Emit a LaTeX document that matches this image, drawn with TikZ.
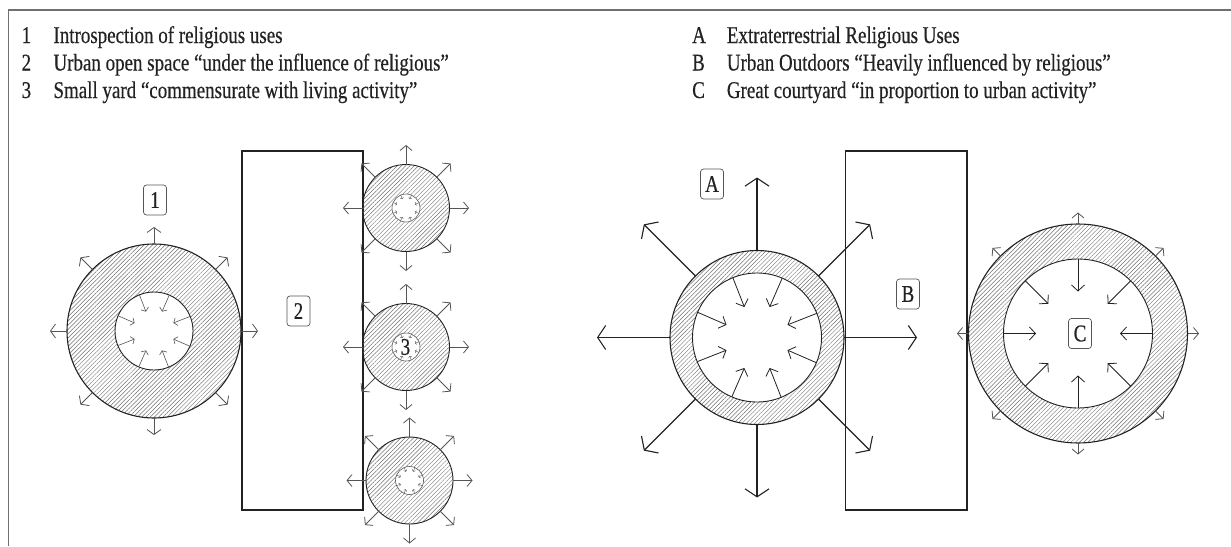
\documentclass[tikz,border=0pt]{standalone}
\usepackage{fontspec}
\setmainfont{Liberation Serif}[FakeStretch=0.79,FakeBold=0.4]
\usetikzlibrary{arrows.meta,patterns.meta,calc}
\definecolor{ink}{HTML}{222222}
\definecolor{lineg}{HTML}{555555}
\definecolor{hatch}{HTML}{707070}
\definecolor{frameg}{HTML}{707070}
\begin{document}
\begin{tikzpicture}[x=1pt,y=1pt,
  lbl/.style={draw=lineg, line width=0.7pt, rounded corners=3pt, fill=white, minimum width=23pt, minimum height=30pt, inner sep=1pt, font=\fontsize{24}{26}\selectfont, text=ink},
  plain/.style={inner sep=0pt, font=\fontsize{24}{26}\selectfont, text=ink},
  ring/.style={circle, draw=ink, line width=1.1pt, pattern={Lines[angle=45,distance=3pt,line width=0.45pt]}, pattern color=hatch, inner sep=0pt, outer sep=0pt, minimum size=#1},
  hole/.style={circle, draw=ink, line width=0.9pt, fill=white, inner sep=0pt, outer sep=0pt, minimum size=#1},
  smallhole/.style={circle, draw=lineg, line width=0.6pt, fill=white, inner sep=0pt, outer sep=0pt, minimum size=#1},
  block/.style={draw=ink, line width=1.3pt, inner sep=0pt, outer sep=0pt},
  legend/.style={anchor=base west, inner sep=0pt, font=\fontsize{24}{26}\selectfont, text=ink},
  sarrow/.style={draw=lineg, line width=0.8pt, -{Straight Barb[length=5pt,width=14pt]}},
  tarrow/.style={draw=lineg, line width=0.6pt, -{Straight Barb[length=3pt,width=8pt]}},
  uarrow/.style={draw=lineg, line width=0.4pt, -{Straight Barb[length=1.5pt,width=3.5pt]}},
  barrow/.style={draw=ink, line width=1.1pt, -{Straight Barb[length=8pt,width=24pt]}},
  marrow/.style={draw=ink, line width=0.8pt, -{Straight Barb[length=6pt,width=13pt]}},
]
\useasboundingbox (0,0) rectangle (1231,-546);
% frame
\coordinate (tr) at (1231,-10);
\coordinate (tl) at (8.5,-10);
\coordinate (bl) at (8.5,-546);
\draw[frameg, line width=1.5pt] (tr) -- (tl) -- (bl);

% legend left
\node[legend] (n1) at (21.5,-43) {1};
\node[legend] (t1) at (53.3,-43) {Introspection of religious uses};
\node[legend] (n2) at (21.5,-70.5) {2};
\node[legend] (t2) at (53.3,-70.5) {Urban open space “under the influence of religious”};
\node[legend] (n3) at (21.5,-98) {3};
\node[legend] (t3) at (53.3,-98) {Small yard “commensurate with living activity”};
% legend right
\node[legend] (nA) at (692,-43) {A};
\node[legend] (tA) at (726.7,-43) {Extraterrestrial Religious Uses};
\node[legend] (nB) at (692,-70.5) {B};
\node[legend] (tB) at (726.7,-70.5) {Urban Outdoors “Heavily influenced by religious”};
\node[legend] (nC) at (692,-98) {C};
\node[legend] (tC) at (726.7,-98) {Great courtyard “in proportion to urban activity”};

% blocks
\node[block, minimum width=121pt, minimum height=359pt] (r2) at (302.5,-330.5) {};
\node[block, minimum width=121.5pt, minimum height=359pt] (rB) at (906.25,-330.5) {};

% circle 1
\node[ring=174pt] (c1) at (154,-331) {};
\node[hole=78pt] (c1i) at (154,-331) {};
\foreach \a in {0,45,...,315}
  \draw[sarrow] (c1.\a) -- ($(c1)+(\a:104)$);
\foreach \a in {22.5,67.5,...,337.5}
  \draw[tarrow] (c1i.\a) -- ($(c1)+(\a:21)$);

% small circles
\foreach \n/\x/\y in {s1/406/-208, s2/406/-347, s3/409.5/-480.5}{
  \node[ring=87pt, line width=0.9pt] (\n) at (\x,\y) {};
  \node[smallhole=28pt] (\n i) at (\x,\y) {};
  \foreach \a in {0,45,...,315}
    \draw[sarrow, -{Straight Barb[length=5pt,width=12pt]}] (\n.\a) -- ($(\n)+(\a:63)$);
  \foreach \a in {22.5,67.5,...,337.5}
    \draw[uarrow] (\n i.\a) -- ($(\n)+(\a:9.5)$);
}

% circle A
\node[ring=174pt] (cA) at (757,-337.5) {};
\node[hole=129pt] (cAi) at (757,-337.5) {};
\foreach \a in {0,45,...,315}
  \draw[barrow] (cA.\a) -- ($(cA)+(\a:160)$);
\foreach \a in {22.5,67.5,...,337.5}
  \draw[marrow] (cAi.\a) -- ($(cA)+(\a:33)$);

% circle C
\node[ring=219pt] (cC) at (1078,-333.5) {};
\node[hole=149pt] (cCi) at (1078,-333.5) {};
\foreach \a in {0,45,...,315}
  \draw[sarrow, -{Straight Barb[length=5pt,width=12pt]}] (cC.\a) -- ($(cC)+(\a:121)$);
\foreach \a in {0,45,...,315}
  \draw[marrow] (cCi.\a) -- ($(cC)+(\a:42)$);

% labels
\node[lbl] (L1) at (155,-200) {1};
\node[lbl] (L2) at (298.5,-311) {2};
\node[plain] (L3) at (405.5,-347) {3};
\node[lbl] (LA) at (712,-184) {A};
\node[lbl] (LB) at (908,-294) {B};
\node[lbl] (LC) at (1080,-333.5) {C};
\end{tikzpicture}
\end{document}
